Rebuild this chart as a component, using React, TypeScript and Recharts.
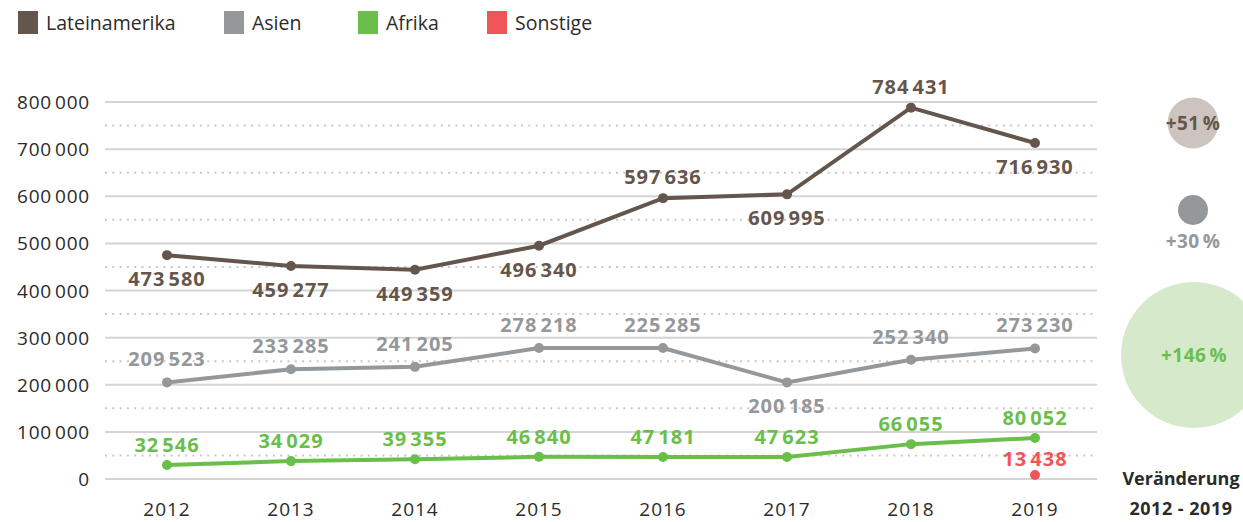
import { LabelList, Line, LineChart, ReferenceLine, XAxis, YAxis } from "recharts";

const years = ["2012", "2013", "2014", "2015", "2016", "2017", "2018", "2019"];

// plotted positions
const latamValues = [475000, 452000, 444000, 495000, 596000, 604000, 788000, 713000];
const asiaValues = [205000, 233000, 238000, 278000, 278000, 205000, 253000, 277000];
const africaValues = [29700, 38000, 42000, 47000, 46500, 46500, 74000, 87000];
const otherValues = [null, null, null, null, null, null, null, 8500];

// printed figures
const latamLabels = [473580, 459277, 449359, 496340, 597636, 609995, 784431, 716930];
const asiaLabels = [209523, 233285, 241205, 278218, 225285, 200185, 252340, 273230];
const africaLabels = [32546, 34029, 39355, 46840, 47181, 47623, 66055, 80052];
const otherLabels = [null, null, null, null, null, null, null, 13438];

const solidTicks = [0, 100000, 200000, 300000, 400000, 500000, 600000, 700000, 800000];
const dottedTicks = [50000, 150000, 250000, 350000, 450000, 550000, 650000, 750000];

const changeSeries = ["Lateinamerika", "Asien", "Afrika"];
const changePct = [51, 30, 146];

const C = {
  latam: "#64564c",
  asia: "#95989b",
  africa: "#6abf4b",
  other: "#ef565a",
  latamLight: "#cdc4bf",
  africaLight: "#d6eacb",
  grid: "#d4d4d4",
  text: "#2b2b2b",
};

const FONT = "'Open Sans', sans-serif";

// split into thousands groups, drawn with a narrow gap
const groups = (n: number) => n.toString().replace(/\B(?=(\d{3})+(?!\d))/g, " ").split(" ");

function Grouped({ n, gap }: { n: number; gap: number }) {
  return (
    <>
      {groups(n).map((g, i) => (
        <tspan key={i} dx={i === 0 ? 0 : gap}>
          {g}
        </tspan>
      ))}
    </>
  );
}

const data = years.map((y, i) => ({
  year: y,
  latam: latamValues[i],
  asia: asiaValues[i],
  africa: africaValues[i],
  other: otherValues[i],
}));

// label placement: -1 above the point, 1 below
const latamSide = [1, 1, 1, 1, -1, 1, -1, 1];
const asiaSide = [-1, -1, -1, -1, -1, 1, -1, -1];
const africaSide = [-1, -1, -1, -1, -1, -1, -1, -1];
const otherSide = [-1, -1, -1, -1, -1, -1, -1, -1];

function makeLabel(labels: (number | null)[], side: number[], color: string, above: number, below: number) {
  return (props: any) => {
    const { x, y, index } = props;
    const v = labels[index];
    if (x == null || y == null || v == null) return null;
    const dy = side[index] < 0 ? -above : below;
    return (
      <text
        x={x}
        y={y + dy}
        fill={color}
        textAnchor="middle"
        dominantBaseline="central"
        fontFamily={FONT}
        fontSize={20}
        fontWeight={700}
        letterSpacing={1}
      >
        <Grouped n={v} gap={3} />
      </text>
    );
  };
}

function YTick(props: any) {
  const { x, y, payload } = props;
  return (
    <text x={x} y={y} textAnchor="end" dominantBaseline="central" fill={C.text} fontFamily={FONT} fontSize={19} letterSpacing={0.8}>
      <Grouped n={payload.value} gap={3} />
    </text>
  );
}

const legendItems = [
  { name: "Lateinamerika", color: C.latam, left: 18 },
  { name: "Asien", color: C.asia, left: 224 },
  { name: "Afrika", color: C.africa, left: 358 },
  { name: "Sonstige", color: C.other, left: 487 },
];

function Legend() {
  return (
    <div style={{ position: "absolute", left: 0, top: 11, fontFamily: FONT, fontSize: 19.5, color: C.text }}>
      {legendItems.map((it) => (
        <div key={it.name} style={{ position: "absolute", left: it.left, top: 0, display: "flex", alignItems: "center", whiteSpace: "nowrap" }}>
          <span style={{ width: 20, height: 23, background: it.color, display: "inline-block", marginRight: 8 }} />
          <span style={{ lineHeight: "23px" }}>{it.name}</span>
        </div>
      ))}
    </div>
  );
}

// bubble layout (centre x/y on the page)
const bubbleCx = [1193, 1193, 1194];
const bubbleCy = [123, 210, 355];
const bubbleFill = [C.latamLight, C.asia, C.africaLight];
const bubbleText = [C.latam, C.asia, C.africa];

function Bubbles() {
  return (
    <svg width={1243} height={522} style={{ position: "absolute", left: 0, top: 0, pointerEvents: "none" }}>
      {changeSeries.map((s, i) => {
        const r = changePct[i] / 2;
        const labelY = r < 20 ? bubbleCy[i] + r + 16 : bubbleCy[i];
        return (
          <g key={s}>
            <circle cx={bubbleCx[i]} cy={bubbleCy[i]} r={r} fill={bubbleFill[i]} />
            <text
              x={bubbleCx[i]}
              y={labelY}
              textAnchor="middle"
              dominantBaseline="central"
              fontFamily={FONT}
              fontSize={19}
              fontWeight={700}
              letterSpacing={0.5}
              fill={bubbleText[i]}
            >
              {"+" + changePct[i]}
              <tspan dx={3}>%</tspan>
            </text>
          </g>
        );
      })}
      <text x={1181} y={478} textAnchor="middle" dominantBaseline="central" fontFamily={FONT} fontSize={18} fontWeight={700} fill={C.text}>
        Veränderung
      </text>
      <text x={1181} y={508} textAnchor="middle" dominantBaseline="central" fontFamily={FONT} fontSize={18} fontWeight={700} fill={C.text} letterSpacing={0.5}>
        {"2012 - 2019"}
      </text>
    </svg>
  );
}

export default function App() {
  return (
    <div style={{ position: "absolute", left: 0, top: 0, width: 1243, height: 522, background: "#fff", fontFamily: FONT }}>
      <Legend />
      <LineChart width={1243} height={522} data={data} margin={{ top: 102, right: 146, bottom: 0, left: 0 }}>
        <XAxis
          dataKey="year"
          height={43}
          padding={{ left: 62, right: 62 }}
          axisLine={false}
          tickLine={false}
          tickMargin={18}
          tick={{ fill: C.text, fontSize: 19, fontFamily: FONT, letterSpacing: 1 }}
          interval={0}
        />
        <YAxis
          type="number"
          domain={[0, 800000]}
          ticks={solidTicks}
          width={105}
          axisLine={false}
          tickLine={false}
          tickMargin={9}
          tick={<YTick />}
        />
        {solidTicks.map((v) => (
          <ReferenceLine key={"s" + v} y={v} stroke={C.grid} strokeWidth={2} />
        ))}
        {dottedTicks.map((v) => (
          <ReferenceLine key={"d" + v} y={v} stroke="#c8c8c8" strokeWidth={2} strokeDasharray="2 5.3" />
        ))}
        <Line dataKey="latam" stroke={C.latam} strokeWidth={4} dot={{ r: 5, fill: C.latam, stroke: C.latam, strokeWidth: 0 }} activeDot={false} isAnimationActive={false}>
          <LabelList dataKey="latam" content={makeLabel(latamLabels, latamSide, C.latam, 22, 23)} />
        </Line>
        <Line dataKey="asia" stroke={C.asia} strokeWidth={4} dot={{ r: 5, fill: C.asia, stroke: C.asia, strokeWidth: 0 }} activeDot={false} isAnimationActive={false}>
          <LabelList dataKey="asia" content={makeLabel(asiaLabels, asiaSide, C.asia, 24, 23)} />
        </Line>
        <Line dataKey="africa" stroke={C.africa} strokeWidth={4} dot={{ r: 5, fill: C.africa, stroke: C.africa, strokeWidth: 0 }} activeDot={false} isAnimationActive={false}>
          <LabelList dataKey="africa" content={makeLabel(africaLabels, africaSide, C.africa, 21, 21)} />
        </Line>
        <Line dataKey="other" stroke={C.other} strokeWidth={4} dot={{ r: 5, fill: C.other, stroke: C.other, strokeWidth: 0 }} activeDot={false} isAnimationActive={false}>
          <LabelList dataKey="other" content={makeLabel(otherLabels, otherSide, C.other, 17, 17)} />
        </Line>
      </LineChart>
      <Bubbles />
    </div>
  );
}
